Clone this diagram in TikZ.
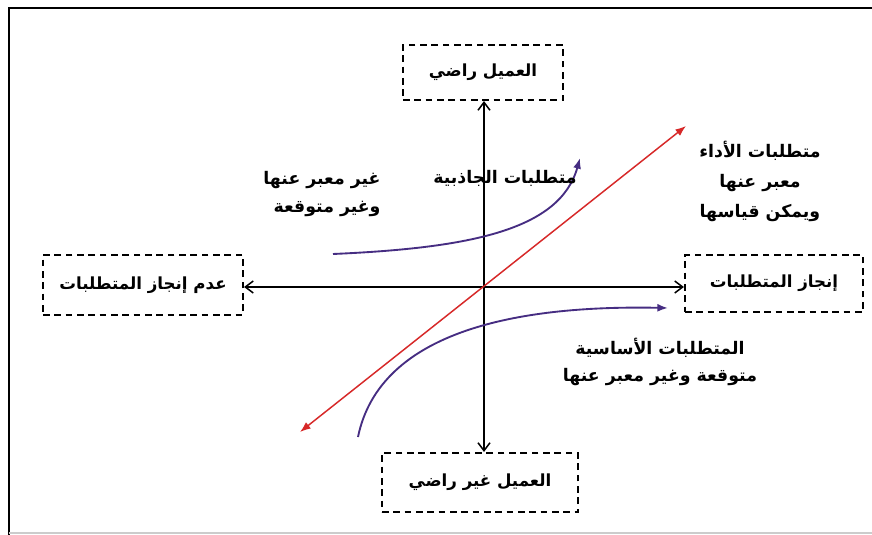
\documentclass[tikz,border=0pt]{standalone}
\usepackage{fontspec}
\newfontfamily\arabicfont[Script=Arabic]{DejaVu Sans}
\TeXXeTstate=1
\usetikzlibrary{arrows.meta}
\definecolor{redline}{RGB}{215,40,40}
\definecolor{purp}{RGB}{70,45,130}
\tikzset{
  dbox/.style={draw, line width=1.6pt, dash pattern=on 5pt off 3.5pt, inner sep=0pt, font=\arabicfont\bfseries\fontsize{12.5}{15}\selectfont},
  lbl/.style={font=\arabicfont\bfseries\fontsize{13}{21}\selectfont, inner sep=0pt},
  axis/.style={line width=1.1pt, {Straight Barb[length=6pt,width=9pt]}-{Straight Barb[length=6pt,width=9pt]}},
  redarrow/.style={redline, line width=1.1pt, {Latex[length=8pt,width=6pt]}-{Latex[length=8pt,width=6pt]}},
  purparrow/.style={purp, line width=1.4pt, -{Latex[length=8pt,width=6pt]}}
}
\begin{document}
\begin{tikzpicture}[x=0.75pt,y=-0.75pt]
\useasboundingbox (0,0) rectangle (872,535);
\fill[white] (0,0) rectangle (872,535);
\draw[line width=2pt] (9,540) -- (9,8) -- (880,8);
\draw[gray!40, line width=0.8pt] (9,533) -- (880,533);

\node[dbox, minimum width=120pt, minimum height=41.25pt] (top) at (483,72.5) {\beginR العميل راضي\endR};
\node[dbox, minimum width=147pt, minimum height=44.25pt] (bottom) at (480,482.5) {\beginR العميل غير راضي\endR};
\node[dbox, minimum width=150pt, minimum height=45pt] (left) at (143,285) {\beginR عدم إنجاز المتطلبات\endR};
\node[dbox, minimum width=133.5pt, minimum height=42.75pt] (right) at (774,283.5) {\beginR إنجاز المتطلبات\endR};

\coordinate (o) at (484,287);
\draw[axis] (o |- top.south) -- (o |- bottom.north);
\draw[axis] (o -| left.east) -- (o -| right.west);

\coordinate (r1) at (300,432);
\coordinate (r2) at (686,126);
\draw[redarrow] (r1) -- (r2);

\coordinate (p1) at (333,254);
\coordinate (p2) at (580,158);
\draw[purparrow] (p1) .. controls (470,248) and (560,230) .. (p2);

\coordinate (q1) at (358,437);
\coordinate (q2) at (668,308);
\draw[purparrow] (q1) .. controls (380,330) and (520,305) .. (q2);

\node[lbl, align=center, font=\arabicfont\bfseries\fontsize{13}{22.5}\selectfont] (perf) at (760,181) {\beginR متطلبات الأداء\endR\\\beginR معبر عنها\endR\\\beginR ويمكن قياسها\endR};
\node[lbl, align=right] (unexp) at (322,194) {\beginR غير معبر عنها\endR\\\beginR وغير متوقعة\endR};
\node[lbl] (attr) at (505,178) {\beginR متطلبات الجاذبية\endR};
\node[lbl, align=center, font=\arabicfont\bfseries\fontsize{13}{20}\selectfont] (basic) at (660,362) {\beginR المتطلبات الأساسية\endR\\\beginR متوقعة وغير معبر عنها\endR};
\end{tikzpicture}
\end{document}
